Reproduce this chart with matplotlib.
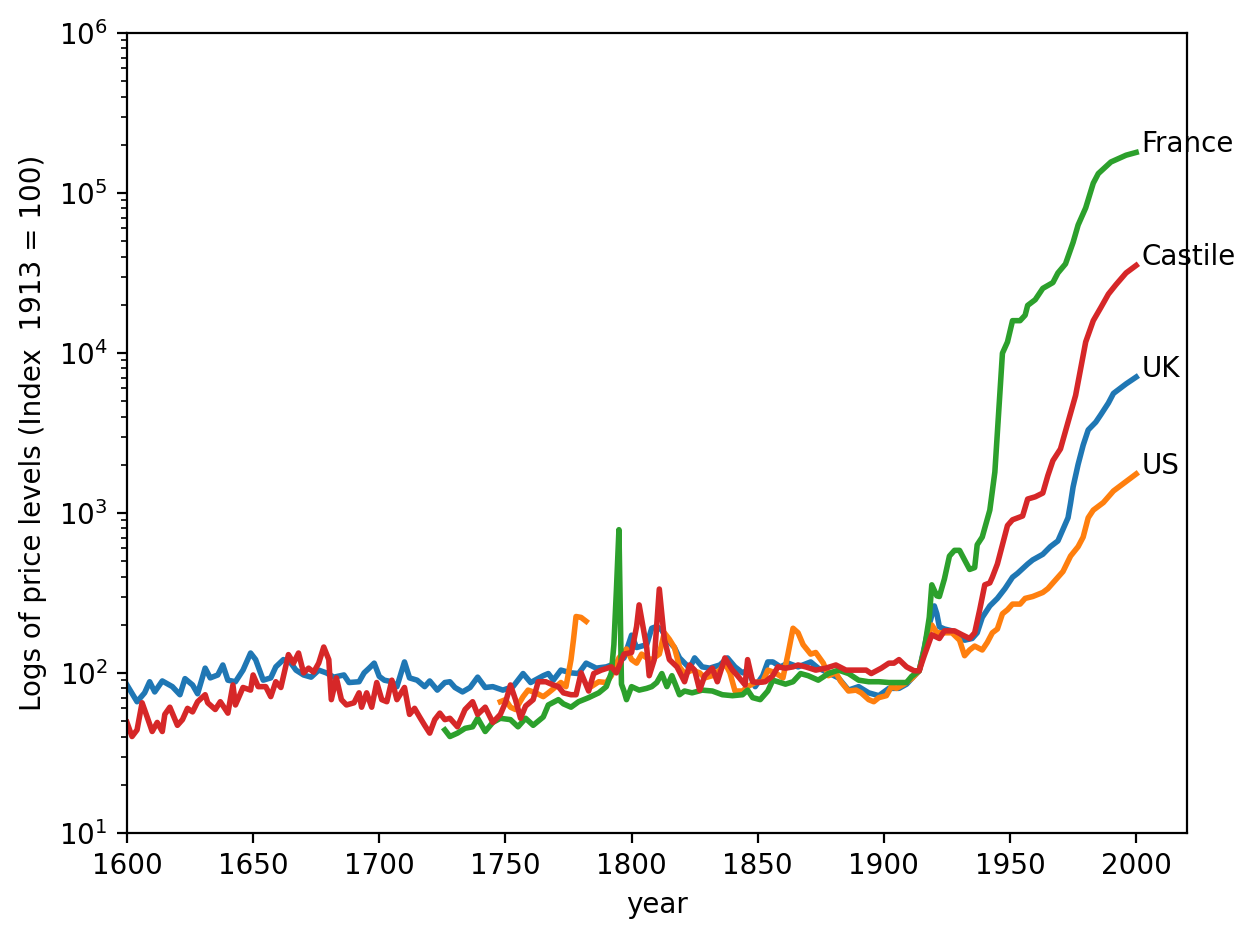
import numpy as np
import matplotlib
matplotlib.use("Agg")
import matplotlib.pyplot as plt

nan = np.nan

uk_years = [1600, 1604, 1607, 1609, 1611, 1614, 1618, 1621, 1623, 1626, 1628, 1631, 1633, 1636,
            1638, 1640, 1643, 1646, 1649, 1651, 1654, 1657, 1659, 1662, 1665, 1667, 1670, 1673,
            1676, 1679, 1682, 1686, 1688, 1692, 1694, 1696, 1698, 1700, 1702, 1705, 1707, 1710,
            1712, 1715, 1718, 1720, 1723, 1726, 1728, 1730, 1733, 1736, 1739, 1742, 1745, 1749,
            1753, 1757, 1760, 1765, 1767, 1769, 1772, 1776, 1779, 1782, 1786, 1790, 1794, 1797,
            1800, 1802, 1806, 1808, 1810, 1812, 1814, 1817, 1819, 1823, 1825, 1828, 1831, 1835,
            1838, 1841, 1844, 1846, 1849, 1852, 1854, 1856, 1859, 1862, 1866, 1871, 1874, 1878,
            1882, 1886, 1890, 1894, 1898, 1902, 1906, 1909, 1911, 1914, 1916, 1918, 1920, 1921,
            1922, 1924, 1927, 1930, 1932, 1935, 1937, 1939, 1942, 1945, 1948, 1951, 1953, 1957,
            1959, 1963, 1966, 1969, 1971, 1973, 1974, 1975, 1977, 1979, 1981, 1984, 1986, 1989,
            1991, 1996, 2000]
uk_prices = [84, 66, 75, 88, 76, 89, 82, 73, 92, 84, 74, 107, 93, 97,
             112, 90, 88, 104, 133, 121, 90, 93, 109, 121, 115, 104, 97, 94,
             104, 100, 94, 97, 87, 88, 100, 107, 115, 95, 90, 88, 82, 117,
             93, 90, 82, 89, 78, 87, 88, 81, 76, 81, 94, 81, 82, 78,
             82, 99, 87, 96, 99, 90, 104, 100, 99, 115, 107, 109, 115, 124,
             172, 144, 150, 190, 195, 185, 162, 144, 124, 107, 124, 109, 107, 112,
             124, 109, 100, 104, 82, 96, 117, 117, 109, 115, 109, 117, 107, 100,
             93, 78, 82, 75, 72, 80, 80, 85, 92, 103, 143, 200, 262, 234,
             194, 188, 183, 173, 160, 164, 178, 222, 262, 292, 336, 396, 419, 479,
             508, 551, 615, 668, 789, 932, 1150, 1450, 2010, 2650, 3300, 3690, 4110, 4860,
             5580, 6400, 7060]

us_years = [1748, 1750, 1752, 1754, 1757, 1759, 1762, 1765, 1767, 1770, 1772, 1774, 1776, 1777,
            1778, 1780, 1782, 1783, 1784, 1787, 1790, 1792, 1795, 1798, 1800, 1802, 1804, 1806,
            1808, 1811, 1813, 1815, 1817, 1819, 1821, 1824, 1827, 1829, 1832, 1835, 1837, 1839,
            1841, 1844, 1846, 1849, 1852, 1854, 1857, 1860, 1862, 1864, 1866, 1868, 1871, 1873,
            1876, 1878, 1881, 1883, 1886, 1889, 1891, 1894, 1896, 1898, 1901, 1903, 1905, 1908,
            1911, 1914, 1917, 1919, 1921, 1924, 1927, 1930, 1932, 1934, 1936, 1939, 1941, 1943,
            1945, 1947, 1949, 1951, 1954, 1956, 1959, 1963, 1965, 1969, 1971, 1974, 1977, 1979,
            1981, 1983, 1987, 1991, 1996, 2000]
us_prices = [66, 68, 61, 59, 71, 78, 75, 71, 75, 82, 87, 82, 121, 162,
             225, 222, 210, nan, 82, 88, 87, 96, 124, 141, 121, 115, 131, 124,
             121, 131, 178, 162, 144, 109, 99, 104, 100, 93, 96, 104, 115, 100,
             77, 77, 82, 87, 88, 104, 100, 93, 131, 190, 178, 150, 131, 134,
             115, 96, 100, 88, 77, 78, 75, 68, 66, 70, 72, 82, 80, 85,
             92, 103, 160, 199, 178, 178, 178, 160, 128, 139, 147, 139, 155, 178,
             188, 234, 248, 269, 269, 292, 300, 318, 336, 396, 430, 537, 615, 706,
             932, 1040, 1160, 1370, 1570, 1750]

france_years = [1726, 1728, 1731, 1734, 1737, 1739, 1742, 1745, 1748, 1752, 1755, 1758, 1761, 1765,
                1767, 1771, 1773, 1776, 1779, 1783, 1787, 1790, 1792, 1793, 1794, 1795, 1796, 1797,
                1798, 1800, 1803, 1806, 1808, 1810, 1812, 1814, 1816, 1819, 1821, 1824, 1828, 1832,
                1836, 1840, 1844, 1846, 1848, 1851, 1854, 1856, 1858, 1861, 1864, 1867, 1870, 1874,
                1878, 1882, 1886, 1890, 1894, 1898, 1902, 1906, 1909, 1911, 1914, 1916, 1918, 1919,
                1921, 1922, 1924, 1926, 1928, 1930, 1932, 1934, 1936, 1937, 1939, 1942, 1944, 1947,
                1949, 1951, 1954, 1956, 1957, 1960, 1963, 1967, 1969, 1972, 1975, 1977, 1980, 1983,
                1985, 1990, 1996, 2000]
france_prices = [44, 40, 42, 45, 46, 52, 43, 49, 52, 51, 46, 52, 47, 53,
                 63, 68, 64, 61, 66, 70, 75, 82, 100, 150, 330, 785, 85, 77,
                 68, 82, 78, 80, 82, 87, 99, 82, 96, 73, 77, 75, 78, 77,
                 73, 72, 73, 78, 70, 68, 77, 90, 88, 85, 88, 99, 96, 90,
                 99, 104, 99, 90, 88, 88, 87, 87, 87, 95, 103, 139, 222, 355,
                 303, 300, 386, 537, 583, 583, 508, 443, 455, 632, 706, 1040, 1800, 9950,
                 11700, 15900, 15900, 17200, 19800, 21500, 25300, 27500, 31600, 36000, 49000, 63000, 80600, 115000,
                 132000, 156000, 172000, 179000]

castile_years = [1600, 1602, 1604, 1606, 1608, 1610, 1612, 1614, 1615, 1617, 1620, 1622, 1624, 1626,
                 1628, 1631, 1632, 1635, 1637, 1640, 1642, 1643, 1646, 1649, 1650, 1652, 1655, 1657,
                 1659, 1661, 1664, 1666, 1668, 1670, 1672, 1674, 1676, 1678, 1680, 1681, 1683, 1685,
                 1687, 1690, 1692, 1693, 1695, 1697, 1699, 1701, 1703, 1705, 1707, 1710, 1712, 1714,
                 1716, 1718, 1720, 1722, 1724, 1726, 1728, 1731, 1734, 1737, 1739, 1742, 1745, 1748,
                 1750, 1752, 1754, 1756, 1758, 1761, 1763, 1766, 1769, 1771, 1773, 1776, 1778, 1780,
                 1783, 1785, 1788, 1792, 1794, 1797, 1800, 1802, 1803, 1806, 1807, 1809, 1811, 1813,
                 1815, 1818, 1821, 1823, 1825, 1827, 1829, 1832, 1834, 1837, 1840, 1842, 1845, 1846,
                 1848, 1850, 1853, 1856, 1858, 1861, 1864, 1866, 1869, 1873, 1877, 1881, 1885, 1889,
                 1893, 1895, 1899, 1902, 1904, 1906, 1909, 1912, 1914, 1916, 1919, 1922, 1924, 1928,
                 1931, 1934, 1936, 1938, 1940, 1942, 1943, 1945, 1947, 1949, 1951, 1955, 1957, 1960,
                 1963, 1965, 1967, 1970, 1973, 1976, 1978, 1980, 1983, 1986, 1989, 1992, 1996, 2000]
castile_prices = [49, 40, 44, 65, 53, 43, 49, 43, 55, 61, 47, 51, 60, 57,
                  66, 73, 65, 59, 66, 56, 84, 63, 81, 78, 97, 82, 82, 71,
                  88, 81, 130, 115, 133, 100, 107, 101, 115, 145, 121, 68, 93, 68,
                  63, 65, 75, 61, 75, 61, 87, 68, 66, 90, 68, 81, 55, 60,
                  53, 47, 42, 51, 56, 51, 52, 46, 59, 66, 55, 61, 49, 55,
                  65, 84, 68, 52, 62, 68, 88, 88, 84, 82, 75, 73, 73, 100,
                  77, 99, 104, 109, 100, 131, 134, 195, 266, 144, 96, 121, 334, 162,
                  121, 109, 88, 112, 104, 78, 96, 107, 88, 124, 104, 96, 84, 121,
                  88, 87, 88, 96, 109, 107, 109, 112, 109, 104, 107, 112, 104, 104,
                  104, 99, 107, 115, 115, 121, 109, 103, 103, 128, 173, 164, 183, 183,
                  173, 164, 178, 248, 355, 365, 396, 479, 632, 833, 905, 956, 1220, 1260,
                  1330, 1710, 2120, 2510, 3690, 5420, 7950, 11700, 15900, 19200, 23300, 26700, 31600, 35200]

series = [
    ("UK", uk_years, uk_prices),
    ("US", us_years, us_prices),
    ("France", france_years, france_prices),
    ("Castile", castile_years, castile_prices),
]

fig = plt.figure(figsize=(6.285, 4.7), dpi=200)
ax = fig.add_axes([0.101, 0.114, 0.843, 0.851])

for name, yrs, vals in series:
    ax.plot(yrs, vals, lw=2)
    ax.text(yrs[-1] + 2, vals[-1], name)

ax.set_yscale("log")
ax.set_xlim(1600, 2020)
ax.set_ylim(10, 1e6)
ax.set_xlabel("year")
ax.set_ylabel("Logs of price levels (Index  1913 = 100)")

plt.savefig("out.png", dpi=200)
